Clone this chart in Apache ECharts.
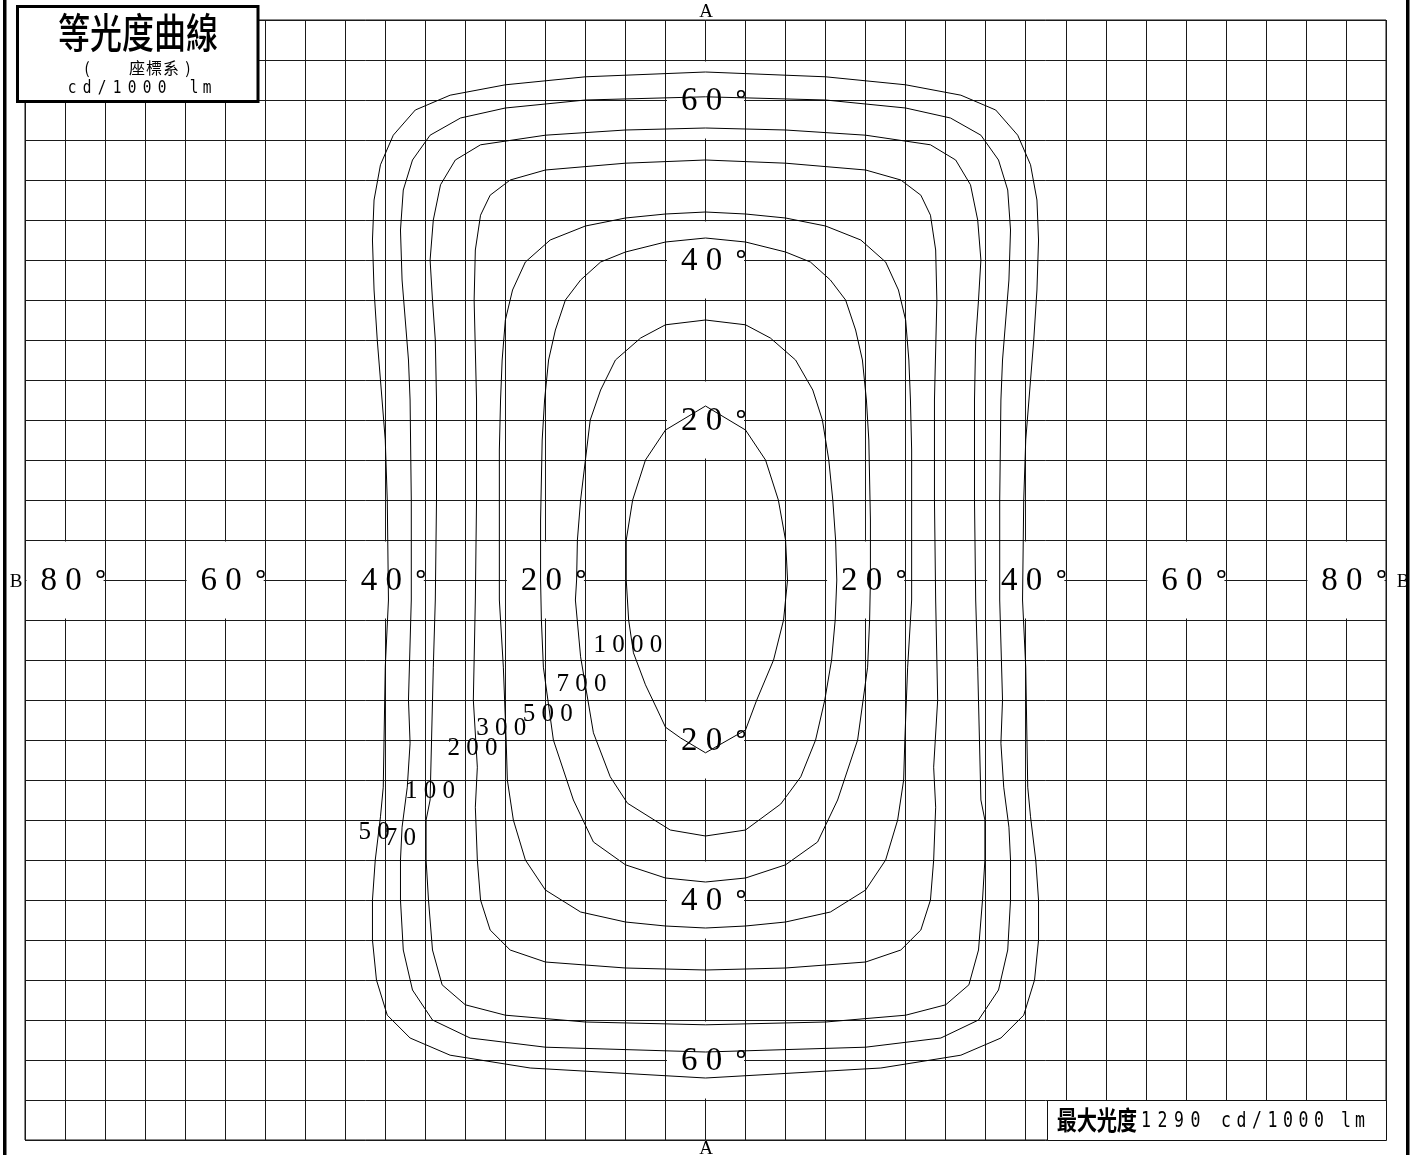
<!DOCTYPE html>
<html><head><meta charset="utf-8">
<script src="https://cdn.jsdelivr.net/npm/echarts@6/dist/echarts.min.js"></script>
<style>html,body{margin:0;padding:0;background:#fff}#c{width:1418px;height:1155px}</style>
</head><body><div id="c"></div>
<script>
// ---- data (degrees: x = B-B plane angle, y = A-A plane angle) ----
const levels = ['1 0 0 0', '7 0 0', '5 0 0', '3 0 0', '2 0 0', '1 0 0', '5 0', '7 0'];
const levelPos = [[-9.7,-8.2],[-15.5,-13],[-19.7,-16.75],[-25.5,-18.6],[-29.1,-21.1],[-34.4,-26.4],[-41.4,-31.5],[-38.1,-32.25]];

const c1000 = [[0,21.75],[5,18.75],[7.5,15],[9.1,10],[10,5],[10.25,0],[9.75,-5],[8.5,-10],[6.4,-15],[5,-18.75],[0,-21.6],[-3.1,-19.75],[-5,-18.4],[-6,-16.25],[-7.5,-13.1],[-9,-9.1],[-9.6,-5],[-9.9,0],[-9.9,5],[-9.1,10],[-7.5,15],[-5,18.75],[0,21.75]];
const c700 = [[0,32.5],[5,31.9],[8.1,30.25],[11.25,27.5],[13.4,23.75],[14.6,20],[15.4,15],[15.9,10],[16.25,5],[16.4,0],[16.2,-5],[15.75,-10],[14.9,-15],[13.75,-20],[11.9,-24.6],[9.4,-28],[5,-31.25],[0,-32],[-4.4,-31.25],[-9.75,-27.9],[-11.9,-24.6],[-14,-19.1],[-15.6,-9.6],[-16.25,-2.5],[-16.1,0],[-16,5],[-15.6,10],[-15,15],[-14.4,20],[-13.1,23.75],[-11.25,27.5],[-8.1,30.25],[-5,31.9],[0,32.5]];
const c500 = [[0,42.75],[5,42.25],[10,41],[13.1,39.75],[15.6,37.5],[17.5,35],[18.75,31.25],[19.6,27.5],[20.1,22.5],[20.4,17.5],[20.5,12.5],[20.6,7.5],[20.6,0],[20.5,-5],[20.25,-10.9],[19,-20],[16.5,-27.5],[14,-32.75],[10,-35.6],[5,-37.25],[0,-37.75],[-5,-37.25],[-10,-35.6],[-14,-32.75],[-16.5,-27.5],[-19,-20],[-20.25,-10.9],[-20.5,-5],[-20.6,0],[-20.6,7.5],[-20.5,12.5],[-20.4,17.5],[-20.1,22.5],[-19.6,27.5],[-18.75,31.25],[-17.5,35],[-15.6,37.5],[-13.1,39.75],[-10,41],[-5,42.25],[0,42.75]];
const c300 = [[0,46],[5,45.75],[10,45.25],[15,44.25],[19.4,42.5],[22.5,39.75],[24.1,36.25],[25,32.5],[25.4,27.5],[25.6,22.5],[25.75,16.25],[25.75,7.5],[25.75,-2.5],[25.25,-10.9],[24.9,-20],[24.75,-25],[24,-30],[22.5,-35],[20,-38.75],[15.6,-41.5],[10,-42.75],[5,-43.25],[0,-43.5],[-5,-43.25],[-10,-42.75],[-15.6,-41.5],[-20,-38.75],[-22.5,-35],[-24,-30],[-24.75,-25],[-24.9,-20],[-25.25,-10.9],[-25.75,-2.5],[-25.75,7.5],[-25.75,16.25],[-25.6,22.5],[-25.4,27.5],[-25,32.5],[-24.1,36.25],[-22.5,39.75],[-19.4,42.5],[-15,44.25],[-10,45.25],[-5,45.75],[0,46]];
const c200 = [[0,52.5],[10,52.1],[20,51.25],[24.4,50],[26.9,48.1],[28.1,45.6],[28.75,41.25],[28.9,35],[28.75,28.75],[28.6,22.5],[28.6,10],[28.75,-2.5],[29,-15],[28.5,-23.4],[28.75,-28.4],[28.5,-35],[28.1,-40],[26.9,-43.75],[24.4,-46.25],[20,-47.75],[10,-48.5],[0,-48.75],[-10,-48.5],[-20,-47.75],[-24.4,-46.25],[-26.9,-43.75],[-28.1,-40],[-28.5,-35],[-28.75,-28.4],[-28.5,-23.4],[-29,-15],[-28.75,-2.5],[-28.6,10],[-28.6,22.5],[-28.75,28.75],[-28.9,35],[-28.75,41.25],[-28.1,45.6],[-26.9,48.1],[-24.4,50],[-20,51.25],[-10,52.1],[0,52.5]];
const c100 = [[0,56.5],[10,56.25],[20,55.6],[28.1,54.4],[31.25,52.5],[33.1,49.4],[34,45],[34.4,40],[34.1,35],[33.75,30],[33.6,22.5],[33.6,10],[33.75,-2.5],[34,-10.9],[34.4,-27.5],[34.9,-30],[34.9,-35],[34.6,-40],[34.1,-46.25],[32.9,-50.6],[30,-53.1],[25,-54.4],[15,-55.25],[0,-55.6],[-15,-55.25],[-25,-54.4],[-30,-53.1],[-32.9,-50.6],[-34.1,-46.25],[-34.6,-40],[-34.9,-35],[-34.9,-30],[-34.4,-27.5],[-34,-10.9],[-33.75,-2.5],[-33.6,10],[-33.6,22.5],[-33.75,30],[-34.1,35],[-34.4,40],[-34,45],[-33.1,49.4],[-31.25,52.5],[-28.1,54.4],[-20,55.6],[-10,56.25],[0,56.5]];
const c70 = [[0,60.4],[15,60],[25,59],[30.6,57.75],[34.4,55.6],[36.6,52.5],[37.75,48.75],[38.1,43.75],[37.9,37.5],[37.5,32.5],[37.1,27.5],[36.9,22.5],[36.75,10],[36.75,-2.5],[37.1,-15],[36.9,-20.4],[37.25,-25.9],[37.9,-30.9],[38.1,-35],[38.1,-40],[37.75,-46.25],[36.6,-51.25],[34.1,-55],[29.4,-57.25],[20,-58.4],[0,-59],[-20,-58.4],[-29.4,-57.25],[-34.1,-55],[-36.6,-51.25],[-37.75,-46.25],[-38.1,-40],[-38.1,-35],[-37.9,-30.9],[-37.25,-25.9],[-36.9,-20.4],[-37.1,-15],[-36.75,-2.5],[-36.75,10],[-36.9,22.5],[-37.1,27.5],[-37.5,32.5],[-37.9,37.5],[-38.1,43.75],[-37.75,48.75],[-36.6,52.5],[-34.4,55.6],[-30.6,57.75],[-25,59],[-15,60],[0,60.4]];
const c50 = [[0,63.5],[15,62.9],[25,61.9],[31.9,60.6],[36.25,58.75],[39,55.6],[40.6,51.9],[41.4,47.5],[41.6,42.5],[41.4,36.25],[41,30],[40.5,23.75],[40,17.5],[39.75,10],[39.6,-2.5],[40,-10.9],[40.25,-25.9],[40.6,-29.6],[41.25,-35],[41.6,-40],[41.6,-45],[41.1,-50],[39.75,-54.4],[36.9,-57.25],[31.9,-59.4],[21.9,-61],[0,-62.25],[-21.9,-61],[-31.9,-59.4],[-36.9,-57.25],[-39.75,-54.4],[-41.1,-50],[-41.6,-45],[-41.6,-40],[-41.25,-35],[-40.6,-29.6],[-40.25,-25.9],[-40,-10.9],[-39.6,-2.5],[-39.75,10],[-40,17.5],[-40.5,23.75],[-41,30],[-41.4,36.25],[-41.6,42.5],[-41.4,47.5],[-40.6,51.9],[-39,55.6],[-36.25,58.75],[-31.9,60.6],[-25,61.9],[-15,62.9],[0,63.5]];
const contours = [c1000, c700, c500, c300, c200, c100, c70, c50];

// angle labels: [x, y, text]
const angleLabels = [
  [-80,0,'8 0'],[-60,0,'6 0'],[-40,0,'4 0'],[-20,0,'2 0'],
  [20,0,'2 0'],[40,0,'4 0'],[60,0,'6 0'],[80,0,'8 0'],
  [0,60,'6 0'],[0,40,'4 0'],[0,20,'2 0'],
  [0,-20,'2 0'],[0,-40,'4 0'],[0,-60,'6 0']
];
const maxValueText = '1290';
const unitMain = 'cd/1000';
const unitTail = 'lm';

// ---- chart ----
const chart = echarts.init(document.getElementById('c'), null, {renderer: 'canvas'});

function txtStyle(text, font) {
  return {text: text, font: font, fill: '#000', align: 'center', verticalAlign: 'middle',
          textAlign: 'center', textVerticalAlign: 'middle'};
}
function chars(str, x0, cy, pitch, font, sx) {
  return str.split('').map((ch, i) => ({
    type: 'text', x: x0 + i * pitch, y: cy, scaleX: sx || 1, z: 101,
    style: txtStyle(ch, font)
  }));
}

const serif = '"Liberation Serif", "DejaVu Serif", serif';
const cjk = '"Noto Sans CJK TC", "Noto Sans CJK JP", sans-serif';
const mono = '"DejaVu Sans Mono", monospace';

const contourSeries = contours.map((d) => ({
  type: 'line', data: d, showSymbol: false, symbol: 'none', smooth: false,
  lineStyle: {color: '#000', width: 1}, z: 5, silent: true, animation: false
}));

const option = {
  animation: false,
  grid: {left: 25, right: 32, top: 20, bottom: 15, show: true, borderColor: '#111', borderWidth: 1, backgroundColor: 'transparent'},
  xAxis: {type: 'value', min: -85, max: 85, interval: 5,
    axisLabel: {show: false}, axisTick: {show: false}, axisLine: {show: false},
    splitLine: {show: true, lineStyle: {color: '#1a1a1a', width: 1}}},
  yAxis: {type: 'value', min: -70, max: 70, interval: 5,
    axisLabel: {show: false}, axisTick: {show: false}, axisLine: {show: false},
    splitLine: {show: true, lineStyle: {color: '#1a1a1a', width: 1}}},
  series: [
    {
      type: 'custom', z: 3, silent: true, data: angleLabels,
      renderItem: function (params, api) {
        const p = api.coord([api.value(0), api.value(1)]);
        const s = api.size([10, 10]);
        const t = angleLabels[params.dataIndex][2];
        return {type: 'group', children: [
          {type: 'rect', shape: {x: p[0] - s[0] / 2 + 1.5, y: p[1] - s[1] / 2 + 1.5, width: s[0] - 3, height: s[1] - 3},
           style: {fill: '#fff'}},
          {type: 'text', x: p[0] - 4, y: p[1] + 1, style: txtStyle(t, '33px ' + serif)},
          {type: 'circle', shape: {cx: p[0] + s[0] / 2 - 4.5, cy: p[1] - 6, r: 3.3},
           style: {fill: 'none', stroke: '#000', lineWidth: 1.6}}
        ]};
      }
    },
    ...contourSeries,
    {
      type: 'custom', z: 6, silent: true, data: levelPos,
      renderItem: function (params, api) {
        const p = api.coord([api.value(0), api.value(1)]);
        return {type: 'text', x: p[0], y: p[1], style: txtStyle(levels[params.dataIndex], '25px ' + serif)};
      }
    }
  ],
  graphic: [
    // outer frame
    {type: 'rect', z: 100, shape: {x: 3, y: 0, width: 3.5, height: 1155}, style: {fill: '#000'}},
    {type: 'rect', z: 100, shape: {x: 1406, y: 0, width: 3.5, height: 1155}, style: {fill: '#000'}},
    // title box
    {type: 'rect', z: 100, shape: {x: 17.5, y: 6.5, width: 240.5, height: 95}, style: {fill: '#fff', stroke: '#000', lineWidth: 3}},
    ...chars('等光度曲線', 74, 32, 32, '500 41px ' + cjk, 0.78),
    ...chars('(', 87, 68, 10, '16px ' + cjk, 1),
    ...chars('座標系)', 137, 68, 17, '16px ' + cjk, 1),
    ...chars(unitMain, 72, 89, 15, '17px ' + mono, 0.85),
    ...chars(unitTail, 194, 89, 13, '17px ' + mono, 0.85),
    // max value box
    {type: 'rect', z: 100, shape: {x: 1047.5, y: 1100.5, width: 339, height: 40}, style: {fill: '#fff', stroke: '#111', lineWidth: 1}},
    ...chars('最大光度', 1067, 1120.5, 20, 'bold 26px ' + cjk, 0.78),
    ...chars(maxValueText, 1146, 1121, 16.5, '22px ' + mono, 0.75),
    ...chars(unitMain, 1226, 1121, 15.5, '22px ' + mono, 0.75),
    ...chars(unitTail, 1346, 1121, 14, '22px ' + mono, 0.75),
    // axis names
    {type: 'text', z: 101, x: 706, y: 12, style: txtStyle('A', '19px ' + serif)},
    {type: 'text', z: 101, x: 706, y: 1149, style: txtStyle('A', '19px ' + serif)},
    {type: 'text', z: 101, x: 16, y: 582, style: txtStyle('B', '19px ' + serif)},
    {type: 'text', z: 101, x: 1403, y: 582, style: txtStyle('B', '19px ' + serif)}
  ]
};
chart.setOption(option);
</script>
</body></html>
